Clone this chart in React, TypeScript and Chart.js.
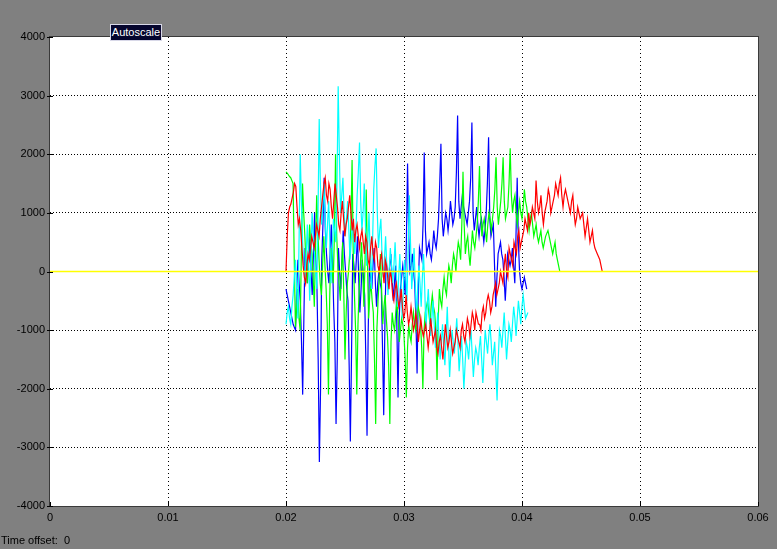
import React, { useEffect, useRef } from "react";
import { Chart, registerables } from "chart.js";

Chart.register(...registerables);

// time span of each recorded trace (seconds)
const traceStart = 0.02;
const redEnd = 0.0468;
const greenEnd = 0.0432;
const blueEnd = 0.0404;
const cyanEnd = 0.0405;

const xTicks = [0, 0.01, 0.02, 0.03, 0.04, 0.05, 0.06];
const yTicks = [-4000, -3000, -2000, -1000, 0, 1000, 2000, 3000, 4000];

const redValues = [
  0, 600, 1000, 1100, 1150, 1250, 1350, 1500, 1450, 1100, 800, 900, 700, 400, 100, -100, -200, 100, 300, 200,
  400, 600, 500, 400, 600, 800, 700, 600, 900, 1100, 1300, 1500, 1600, 1300, 1200, 1500, 1400, 1100, 900, 1200,
  1500, 1300, 1100, 800, 700, 1000, 1200, 900, 600, 800, 900, 1100, 1300, 1000, 700, 900, 500, 700, 800, 600,
  400, 600, 700, 500, 300, 600, 500, 200, 100, 400, 600, 300, 200, 500, 400, 100, 0, 200, 300, 0,
  -200, 200, 100, -100, -300, 0, -100, -400, -500, -300, -200, -400, -600, -500, -300, -600, -800, -700, -400, -700,
  -900, -800, -600, -800, -1000, -900, -700, -900, -1200, -1000, -800, -1000, -1100, -1000, -900, -1100, -1300, -1100, -800, -1000,
  -1200, -1100, -1000, -1300, -1400, -1200, -1100, -1300, -1500, -1200, -900, -1100, -1300, -1200, -1000, -1200, -1400, -1300, -1200, -1000,
  -1100, -1200, -1300, -1000, -900, -1100, -1200, -1000, -800, -900, -1100, -900, -700, -800, -1000, -700, -800, -900, -900, -1000,
  -700, -600, -800, -700, -500, -400, -500, -700, -600, -400, -300, -200, -400, -300, -200, 0, -100, -200, 100, 300,
  0, -100, 400, 300, 200, 100, 500, 400, 300, 600, 700, 400, 500, 600, 700, 900, 800, 700, 1000, 800,
  900, 1100, 1000, 900, 1550, 1200, 1000, 1100, 1300, 1000, 800, 1000, 1100, 1200, 1400, 1300, 1000, 1100, 1200, 1300,
  1500, 1400, 1300, 1500, 1600, 1300, 1100, 1300, 1400, 1300, 1200, 1100, 1000, 1200, 1300, 1000, 800, 900, 1100, 1000,
  900, 950, 1000, 800, 600, 750, 900, 700, 500, 600, 700, 500, 400, 350, 300, 250, 200, 100, 0,
];

const greenValues = [
  1700, 1680, 1650, 1620, 1600, 1550, 1500, 200, -950, -600, -300, -800, -1000, 300, 1500, 1000, 600, 100, -200, 300,
  800, 500, 300, -100, -600, 400, 1300, 700, 200, -200, -400, 100, 600, 100, -300, -900, -2100, -500, 400, 100,
  -200, 600, 2000, 600, 100, -200, -500, 0, 500, -400, -1500, -700, -200, 0, 300, 800, 1900, 300, -400, -1000,
  -2100, -900, -300, 100, 500, 0, -600, 200, 1400, 200, -800, -400, -200, -500, -700, -1500, -2600, -1000, -500, -100,
  300, -300, -900, -600, -400, -800, -1100, -1600, -2600, -1200, -700, -900, -1000, -700, -500, -800, -1200, -1000, -800, -900,
  -1100, -1500, -2150, -1300, -900, -1100, -1200, -900, -700, -900, -1000, -800, -600, -700, -900, -1300, -2000, -1000, -700, -600,
  -500, -700, -900, -600, -400, -600, -700, -1000, -1850, -800, -300, -500, -600, -300, -100, -300, -400, -100, 100, 0,
  -200, 100, 300, 200, 0, 300, 500, 400, 200, 800, 1700, 800, 300, 500, 600, 300, 100, 400, 700, 500,
  400, 600, 800, 1200, 1800, 1000, 600, 800, 900, 700, 500, 800, 1000, 900, 700, 900, 1100, 1400, 1950, 1100,
  800, 1000, 1200, 1500, 1950, 1200, 900, 1000, 1100, 1500, 2100, 1300, 1000, 1200, 1300, 1000, 800, 1000, 1200, 1000,
  900, 1100, 1400, 1200, 1100, 900, 700, 900, 1000, 800, 600, 700, 800, 600, 500, 600, 700, 500, 400, 500,
  600, 650, 700, 600, 500, 400, 300, 400, 500, 300, 200, 100, 0,
];

const blueValues = [
  -300, -400, -500, -600, -700, -800, -900, -950, -1000, -300, 200, -200, -500, -1200, -2100, -800, 400, 100, -200, 200,
  600, 0, -400, 300, 1000, 200, -300, -1500, -3250, -2000, 200, 800, 1600, 700, 300, 0, -200, 300, 800, 200,
  -600, -1200, -2600, -1500, 400, 0, -300, 200, 700, 300, 0, -300, -500, -1600, -2900, -1400, 300, 100, -200, 200,
  600, -100, -700, -300, 200, -100, -400, -1500, -2800, -1000, 100, -100, -300, 100, 400, -200, -600, -200, 0, -200,
  -300, -1300, -2450, -900, 200, 0, -200, 100, 300, -100, -500, -200, 100, -900, -2150, -800, -300, -100, 100, -100,
  -400, 500, 1840, 600, 0, 100, 300, 0, -200, -800, -1740, -300, 400, 300, 200, 800, 2030, 700, 300, 400,
  500, 300, 200, 400, 700, 500, 400, 600, 900, 1500, 2180, 900, 600, 800, 1000, 900, 700, 900, 1200, 1000,
  800, 900, 1100, 1700, 2660, 1200, 900, 1100, 1300, 1100, 1000, 900, 800, 1000, 1200, 1600, 2540, 1000, 700, 900,
  1100, 800, 600, 800, 900, 700, 500, 700, 1000, 1500, 2290, 900, 600, 700, 800, 100, -600, -100, 300, 400,
  500, 300, 200, -100, -500, -100, 300, 200, 100, 200, 400, 100, -200, 600, 1600, 500, 0, -200, -300, -200,
  -100, -200, -300,
];

const cyanValues = [
  -900, -700, -600, -800, -900, -600, -400, -100, 200, -300, -800, 500, 2000, 1200, 500, 100, -200, 300, 800, 200,
  -500, 200, 1000, 600, 300, 0, -300, 1000, 2600, 1500, 800, 1100, 1500, 900, 400, 800, 1200, 500, -200, 300,
  900, 700, 500, 1500, 3160, 2000, 1000, 1300, 1600, 1000, 600, 900, 1200, 700, 200, 500, 900, 600, 300, 700,
  1300, 1700, 2200, 1200, 700, 1000, 1500, 800, 100, 500, 1000, 300, -300, 500, 1400, 1800, 2100, 1000, 400, 700,
  900, 300, -100, 200, 600, 100, -400, 0, 400, 100, -200, 100, 500, 0, -600, -100, 300, -200, -800, -300,
  200, -100, -500, 400, 1300, 500, -300, 0, 400, -200, -800, -300, 100, -200, -600, -100, 300, -300, -1000, -600,
  -300, -700, -1100, -800, -500, -900, -1300, -1000, -700, -1100, -1500, -1200, -900, -1300, -1600, -1100, -600, -1200, -1800, -1400,
  -1000, -1200, -1400, -1100, -800, -1200, -1700, -1400, -1100, -1500, -2000, -1600, -1200, -1300, -1500, -1200, -1000, -1400, -1800, -1500,
  -1300, -1400, -1600, -1300, -1100, -1500, -1900, -1400, -1000, -1200, -1400, -1100, -900, -1200, -1600, -1400, -1200, -1700, -2200, -1500,
  -1000, -1100, -1300, -1000, -700, -1100, -1500, -1200, -900, -1000, -1200, -900, -600, -800, -1100, -800, -500, -700, -900, -600,
  -400, -600, -800, -750, -700,
];

const zeroLine = [0, 0];

function toPoints(values: number[], tEnd: number) {
  const step = (tEnd - traceStart) / (values.length - 1);
  return values.map((v, i) => ({ x: traceStart + i * step, y: v }));
}

const frame = {
  id: "scopeFrame",
  beforeDraw(chart: any) {
    const { ctx, chartArea } = chart;
    ctx.save();
    ctx.fillStyle = "#808080";
    ctx.fillRect(0, 0, chart.width, chart.height);
    ctx.fillStyle = "#ffffff";
    ctx.fillRect(chartArea.left, chartArea.top, chartArea.right - chartArea.left, chartArea.bottom - chartArea.top);
    ctx.restore();
  },
  afterDraw(chart: any) {
    const { ctx, chartArea, scales } = chart;
    ctx.save();
    ctx.strokeStyle = "#3a3a3a";
    ctx.lineWidth = 1;
    ctx.strokeRect(chartArea.left - 0.5, chartArea.top - 0.5, chartArea.right - chartArea.left + 1, chartArea.bottom - chartArea.top + 1);
    ctx.strokeStyle = "#000000";
    ctx.beginPath();
    xTicks.forEach((t) => {
      const px = Math.round(scales.x.getPixelForValue(t)) + 0.5;
      ctx.moveTo(px, chartArea.bottom);
      ctx.lineTo(px, chartArea.bottom - 4);
    });
    yTicks.forEach((v) => {
      const py = Math.round(scales.y.getPixelForValue(v)) + 0.5;
      ctx.moveTo(chartArea.left - 3, py);
      ctx.lineTo(chartArea.left + 3, py);
    });
    ctx.stroke();
    ctx.restore();
  },
};

export default function App() {
  const ref = useRef<HTMLCanvasElement | null>(null);

  useEffect(() => {
    if (!ref.current) return;
    const lastX = xTicks[xTicks.length - 1];
    const chart = new Chart(ref.current, {
      type: "line",
      data: {
        datasets: [
          {
            label: "zero",
            data: [
              { x: xTicks[0], y: zeroLine[0] },
              { x: lastX, y: zeroLine[1] },
            ],
            borderColor: "#ffff00",
            borderWidth: 1.5,
            pointRadius: 0,
          },
          { label: "red", data: toPoints(redValues, redEnd), borderColor: "#ff0000", borderWidth: 1.2, pointRadius: 0 },
          { label: "cyan", data: toPoints(cyanValues, cyanEnd), borderColor: "#00ffff", borderWidth: 1.2, pointRadius: 0 },
          { label: "green", data: toPoints(greenValues, greenEnd), borderColor: "#00ff00", borderWidth: 1.2, pointRadius: 0 },
          { label: "blue", data: toPoints(blueValues, blueEnd), borderColor: "#0000ff", borderWidth: 1.2, pointRadius: 0 },
        ],
      },
      options: {
        animation: false,
        responsive: false,
        devicePixelRatio: 1,
        parsing: false,
        normalized: true,
        layout: { padding: { top: 37, right: 19, left: 0, bottom: 0 } },
        plugins: { legend: { display: false }, tooltip: { enabled: false } },
        elements: { line: { tension: 0 } },
        scales: {
          x: {
            type: "linear",
            min: 0,
            max: 0.06,
            afterBuildTicks: (s: any) => {
              s.ticks = xTicks.map((v) => ({ value: v }));
            },
            afterFit: (s: any) => {
              s.height = 43;
            },
            border: { display: false, dash: [1, 3] },
            grid: {
              color: (c: any) => (c.index === 0 || c.index === xTicks.length - 1 ? "rgba(0,0,0,0)" : "#000000"),
              lineWidth: 1,
              tickLength: 0,
            },
            ticks: {
              color: "#000000",
              padding: 5,
              maxRotation: 0,
              autoSkip: false,
              font: { family: "'Liberation Sans', Arial, sans-serif", size: 11 },
              callback: (v: any) => String(Number(Number(v).toFixed(2))),
            },
          },
          y: {
            type: "linear",
            min: -4000,
            max: 4000,
            afterBuildTicks: (s: any) => {
              s.ticks = yTicks.map((v) => ({ value: v }));
            },
            afterFit: (s: any) => {
              s.width = 50;
            },
            border: { display: false, dash: [1, 2] },
            grid: {
              color: (c: any) => (c.index === 0 || c.index === yTicks.length - 1 ? "rgba(0,0,0,0)" : "#000000"),
              lineWidth: 1,
              tickLength: 0,
            },
            ticks: {
              color: "#000000",
              padding: 5,
              autoSkip: false,
              font: { family: "'Liberation Sans', Arial, sans-serif", size: 11 },
              callback: (v: any) => String(v),
            },
          },
        },
      },
      plugins: [frame],
    } as any);
    return () => chart.destroy();
  }, []);

  return (
    <div
      style={{
        position: "fixed",
        left: 0,
        top: 0,
        width: 777,
        height: 549,
        background: "#808080",
        overflow: "hidden",
        fontFamily: "'Liberation Sans', Arial, sans-serif",
      }}
    >
      <canvas ref={ref} width={777} height={549} style={{ display: "block", width: 777, height: 549 }} />
      <div
        style={{
          position: "absolute",
          left: 110,
          top: 24,
          width: 50,
          height: 15,
          background: "#05052e",
          border: "1px solid #d8d8e8",
          color: "#ffffff",
          fontSize: 11,
          lineHeight: "15px",
          textAlign: "center",
          boxSizing: "content-box",
        }}
      >
        Autoscale
      </div>
      <div
        style={{
          position: "absolute",
          left: 1,
          top: 534,
          color: "#000000",
          fontSize: 11,
          lineHeight: "13px",
          whiteSpace: "pre",
        }}
      >
        {"Time offset:  0"}
      </div>
    </div>
  );
}
